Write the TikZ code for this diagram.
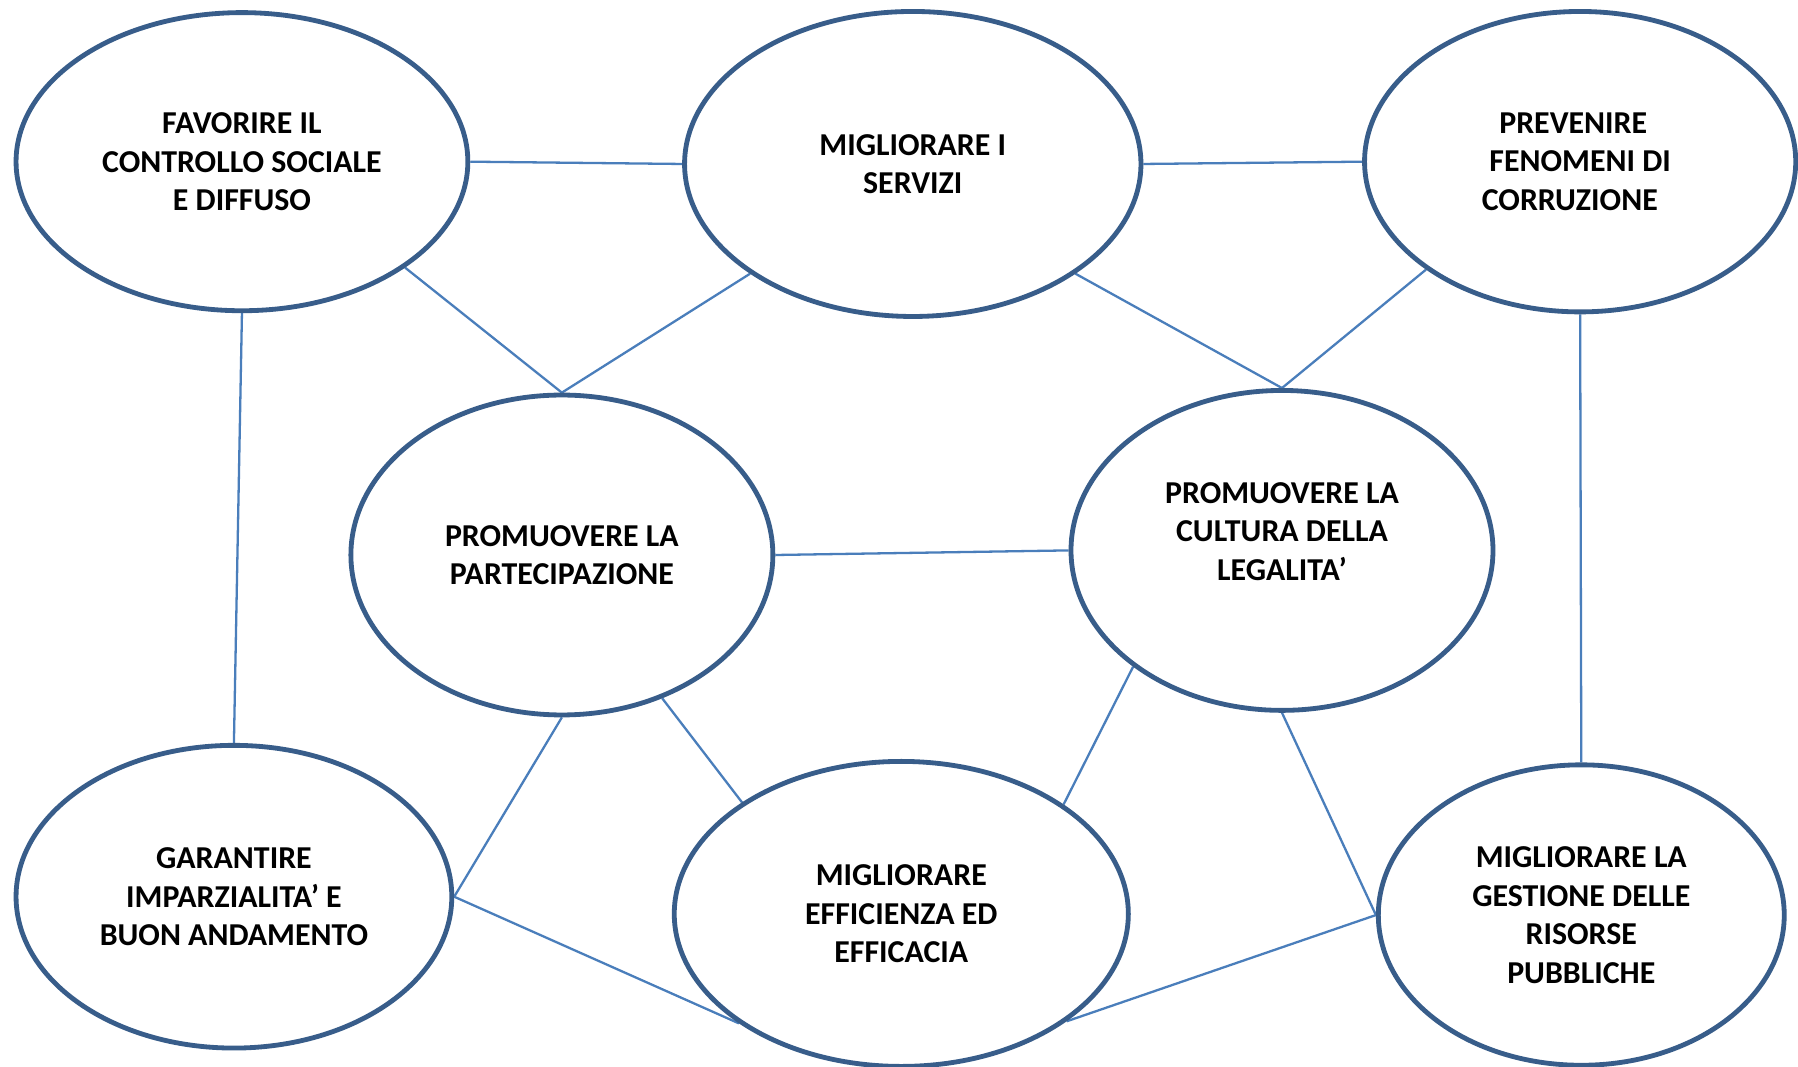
\documentclass[tikz,border=0pt]{standalone}
\usepackage{fontspec}
\setmainfont{Carlito}
\usetikzlibrary{shapes.geometric,backgrounds}
\definecolor{ellborder}{HTML}{385D8A}
\definecolor{linkblue}{HTML}{4A7EBB}
\begin{document}
\begin{tikzpicture}[x=0.5pt,y=-0.5pt,
  goal/.style={ellipse, draw=ellborder, line width=2.1pt, fill=white, inner sep=0pt,
    align=center, font=\fontsize{13.9}{16.75}\selectfont\bfseries},
  link/.style={draw=linkblue, line width=1pt}]
\useasboundingbox (0,0) rectangle (1568,930);
\node[goal, minimum width=197pt, minimum height=130pt] (e1) at (211,141) {FAVORIRE IL\\CONTROLLO SOCIALE\\E DIFFUSO};
\node[goal, minimum width=199pt, minimum height=133pt] (e2) at (796,143) {MIGLIORARE I\\SERVIZI};
\node[goal, minimum width=188pt, minimum height=131pt] (e3) at (1378,141) {PREVENIRE\hspace*{6pt}\\FENOMENI DI\\CORRUZIONE\hspace*{9pt}};
\node[goal, minimum width=184pt, minimum height=139.5pt] (e4) at (490,484) {PROMUOVERE LA\\PARTECIPAZIONE};
\node[goal, minimum width=184pt, minimum height=139.5pt] (e5) at (1118,480) {PROMUOVERE LA\\CULTURA DELLA\\LEGALITA’\\\mbox{}};
\node[goal, minimum width=190pt, minimum height=132pt] (e6) at (204,782) {GARANTIRE\\IMPARZIALITA’ E\\BUON ANDAMENTO};
\node[goal, minimum width=198pt, minimum height=133pt] (e7) at (786,797) {MIGLIORARE\\EFFICIENZA ED\\EFFICACIA};
\node[goal, minimum width=177pt, minimum height=131pt] (e8) at (1379,798) {MIGLIORARE LA\\GESTIONE DELLE\\RISORSE\\PUBBLICHE};
\begin{scope}[on background layer]
\fill[white] (0,0) rectangle (1568,930);
\draw[link] (e1.east) -- (e2.west);
\draw[link] (e2.east) -- (e3.west);
\draw[link] (e1.-33.7) -- (e4.north);
\draw[link] (e2.-146) -- (e4.north);
\draw[link] (e2.-34) -- (e5.north);
\draw[link] (e3.-145) -- (e5.north);
\draw[link] (e1.south) -- (e6.north);
\draw[link] (e3.south) -- (e8.north);
\draw[link] (e4.east) -- (e5.west);
\draw[link] (e4.south) -- (e6.east);
\draw[link] (e4.-55.9) -- (e7.145.8);
\draw[link] (e5.-142.2) -- (e7.34.2);
\draw[link] (e5.south) -- (e8.west);
\draw[link] (e6.east) -- (e7.-146.3);
\draw[link] (e7.-33.7) -- (e8.west);
\end{scope}
\end{tikzpicture}
\end{document}
